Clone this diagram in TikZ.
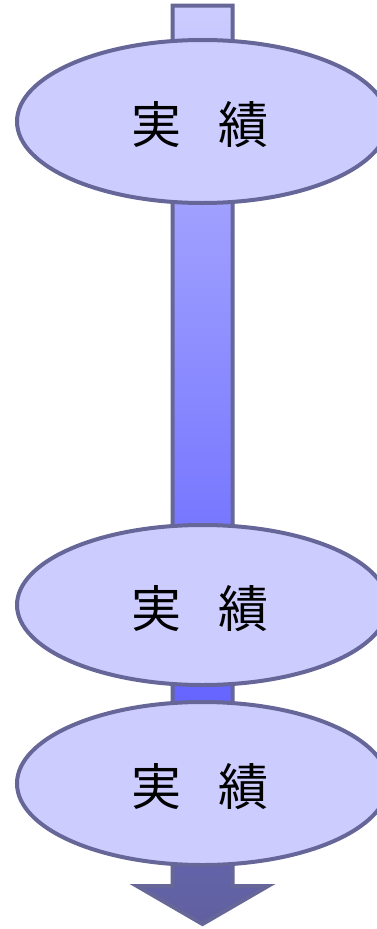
\documentclass[tikz,border=0pt]{standalone}
\usepackage{fontspec}
\newfontfamily\cjk{Noto Sans CJK JP}
\usetikzlibrary{shapes.geometric}
\definecolor{edgec}{HTML}{666699}
\definecolor{ellfill}{HTML}{CCCCFF}
\definecolor{sA}{HTML}{CCCCFF}
\definecolor{sB}{HTML}{C8C8FF}
\definecolor{sC}{HTML}{A0A0FF}
\definecolor{sD}{HTML}{7878FF}
\definecolor{sE}{HTML}{6666FF}
\definecolor{sF}{HTML}{6262A8}
\definecolor{sG}{HTML}{6060A0}
\pgfdeclareverticalshading{barshade}{100bp}{%
  color(0bp)=(sG); color(25bp)=(sG); color(27.9bp)=(sF); color(37.2bp)=(sE);
  color(47bp)=(sD); color(64.15bp)=(sC); color(73.1bp)=(sB); color(75bp)=(sA);
  color(100bp)=(sA)}
\tikzset{
  stage/.style={ellipse, draw=edgec, line width=4pt, fill=ellfill,
    minimum width=371pt, minimum height=163pt, inner sep=0pt},
  stagetext/.style={font=\cjk\fontsize{50}{60}\selectfont, inner sep=0pt, text=black},
  flowarrow/.style={draw=edgec, line width=4pt, line join=miter, shading=barshade}
}
\begin{document}
\begin{tikzpicture}[x=1pt,y=-1pt]
\useasboundingbox (0,0) rectangle (376,929);
\coordinate (tl) at (172.5,5.5);
\coordinate (tr) at (232.5,5.5);
\coordinate (br) at (232.5,886);
\coordinate (hr) at (268,886);
\coordinate (tip) at (202.5,924);
\coordinate (hl) at (137,886);
\coordinate (bl) at (172.5,886);
\path[flowarrow] (tl) -- (tr) -- (br) -- (hr) -- (tip) -- (hl) -- (bl) -- cycle;
\node[stage] (e1) at (202.5,121.5) {};
\node[stage, minimum height=160pt] (e2) at (202.5,605) {};
\node[stage] (e3) at (202.5,783.5) {};
\node[stagetext] (t1) at (200,125) {実\hspace{0.74em}績};
\node[stagetext] (t2) at (200,608.5) {実\hspace{0.74em}績};
\node[stagetext] (t3) at (200,787) {実\hspace{0.74em}績};
\end{tikzpicture}
\end{document}
